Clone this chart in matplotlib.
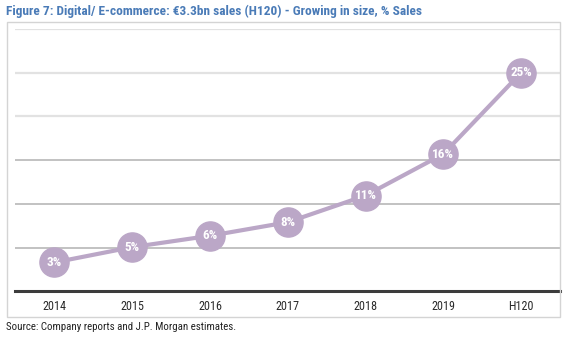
import matplotlib
matplotlib.use("Agg")
import matplotlib.pyplot as plt
from matplotlib.patches import Rectangle
from matplotlib import font_manager

categories = ["2014", "2015", "2016", "2017", "2018", "2019", "H120"]
ecom_share = [3.3, 5.05, 6.35, 7.9, 10.95, 15.7, 25.0]
title = "Figure 7: Digital/ E-commerce: €3.3bn sales (H120) - Growing in size, % Sales"
source = "Source: Company reports and J.P. Morgan estimates."

names = {f.name for f in font_manager.fontManager.ttflist}
narrow = None
for cand in ["Liberation Sans Narrow", "Arial Narrow", "Roboto Condensed", "Open Sans Condensed", "DejaVu Sans Condensed"]:
    if cand in names:
        narrow = cand
        break
fam = ([narrow] if narrow else []) + ["Liberation Sans", "DejaVu Sans"]

W, H = 568, 341
fig = plt.figure(figsize=(W / 100, H / 100), dpi=100)

fig.patches.append(Rectangle((7 / W, 1 - 317 / H), (560 - 7) / W, (317 - 22) / H,
                             transform=fig.transFigure, fill=False,
                             edgecolor="#d4d4d4", linewidth=1.0))

ax = fig.add_axes([15.5 / W, 1 - 291.3 / H, (560 - 15.5) / W, (291.3 - 29) / H])
ax.set_xlim(-0.5, len(categories) - 0.5)
ax.set_ylim(0, 30)
for s in ax.spines.values():
    s.set_visible(False)

for y in [5, 10, 15]:
    ax.axhline(y, color="#b8b8b8", linewidth=1.2, zorder=1)
for y in [20, 25, 30]:
    ax.axhline(y, color="#e2e2e2", linewidth=1.6, zorder=1)
ax.axhline(0, color="#3c3c3c", linewidth=2.2, zorder=2, clip_on=False)

x = list(range(len(categories)))
purple = "#bba7c7"
ax.plot(x, ecom_share, color=purple, linewidth=3.0, zorder=3,
        marker="o", markersize=21, markerfacecolor=purple, markeredgecolor=purple)
for xi, v in zip(x, ecom_share):
    ax.text(xi, v, f"{v:.0f}%", ha="center", va="center", color="white",
            fontsize=9.5, fontweight="bold", family=fam, zorder=4)

ax.set_xticks(x)
ax.set_xticklabels(categories, family=fam, fontsize=8.7, color="#2a2a2a")
ax.tick_params(axis="x", length=0, pad=6)
ax.set_yticks([])

fig.text(6 / W, 1 - 11 / H, title, ha="left", va="center", fontsize=9.6,
         fontweight="bold", color="#4a7bb7", family=fam)
fig.text(6 / W, 1 - 327 / H, source, ha="left", va="center", fontsize=7.8,
         color="#222222", family=fam)

fig.savefig("out.png", dpi=100)
